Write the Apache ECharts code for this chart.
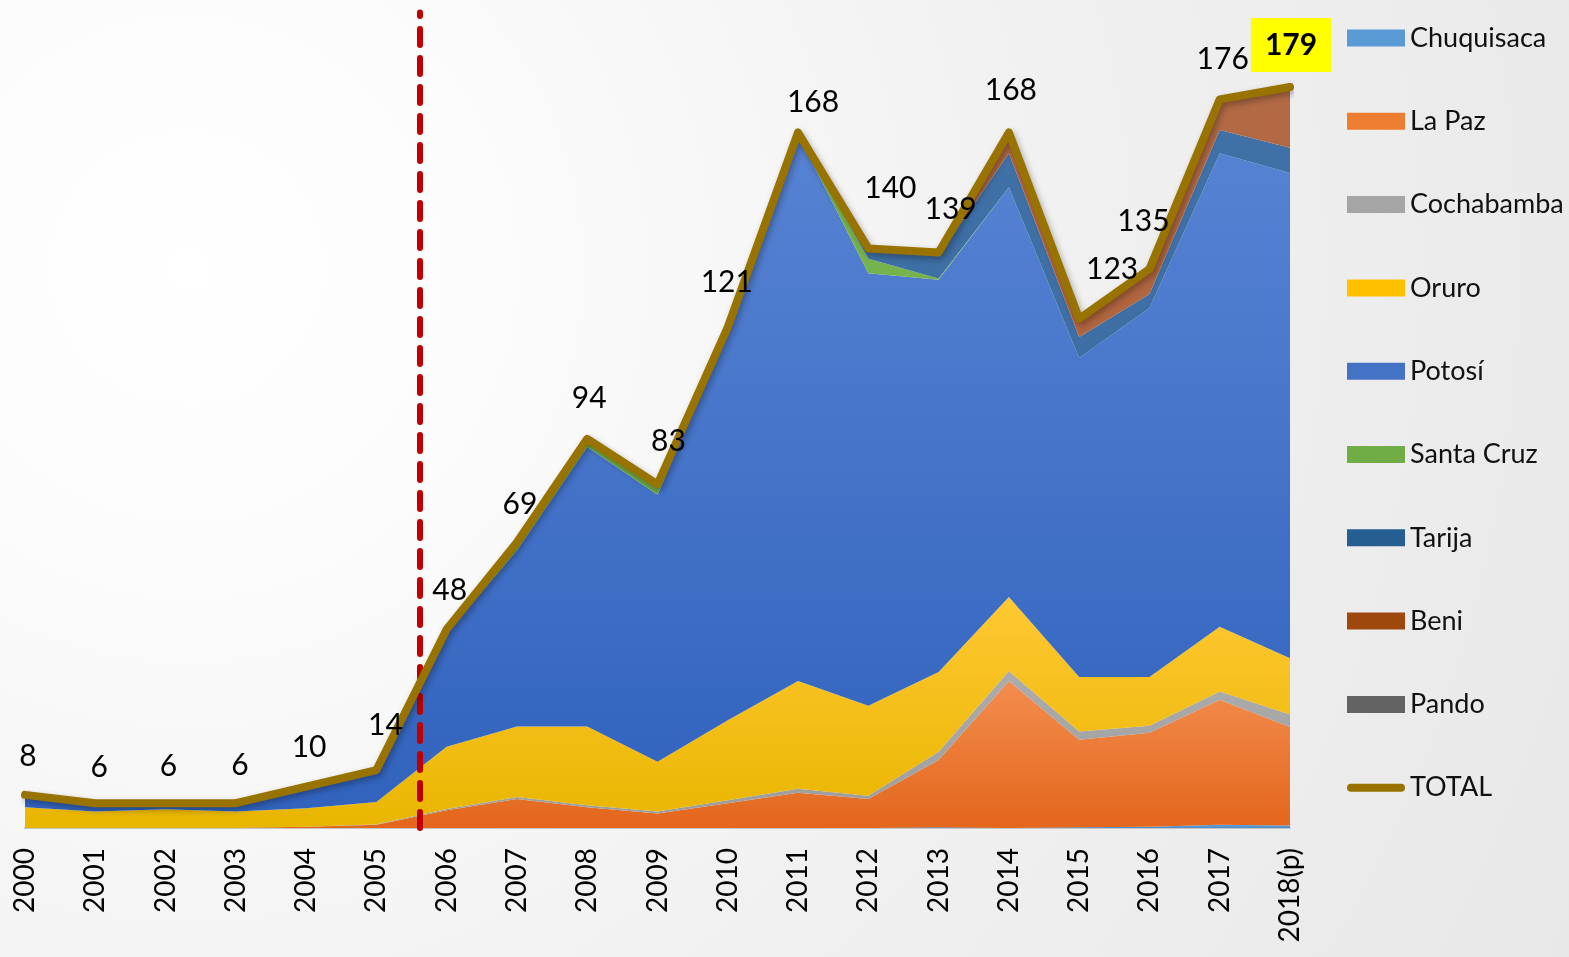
<!DOCTYPE html>
<html>
<head>
<meta charset="utf-8">
<script src="https://cdn.jsdelivr.net/npm/echarts@6/dist/echarts.min.js"></script>
<style>
  html, body { margin: 0; padding: 0; }
  body {
    width: 1569px; height: 957px; overflow: hidden;
    background: radial-gradient(circle at 12% 28%, #ffffff 0%, #fcfcfc 18%, #f1f1f1 55%, #e8e8e8 100%);
  }
  #chart { width: 1569px; height: 957px; }
</style>
</head>
<body>
<div id="chart"></div>
<script>
// datos por departamento
const years = ['2000', '2001', '2002', '2003', '2004', '2005', '2006', '2007', '2008', '2009',
  '2010', '2011', '2012', '2013', '2014', '2015', '2016', '2017', '2018(p)']
const chuquisaca = [0, 0, 0, 0, 0, 0, 0, 0, 0, 0, 0, 0, 0, 0.2, 0, 0.2, 0.3, 0.8, 0.6]
const laPaz = [0, 0, 0, 0, 0.3, 0.8, 4.3, 7, 5, 3.5, 6, 8.5, 7, 16.2, 35.5, 21.1, 22.7, 30.2, 23.8]
const cochabamba = [0, 0, 0, 0, 0, 0.1, 0.3, 0.5, 0.5, 0.5, 0.7, 1, 0.8, 2, 2.4, 2, 1.7, 2, 3]
const oruro = [5, 4, 4.5, 4, 4.5, 5.4, 15, 17, 19, 12, 19.3, 26, 21.7, 19.3, 17.9, 13.2, 11.8, 15.6, 13.6]
const potosi = [3, 2, 1.5, 2, 5, 7.5, 27.5, 42.5, 67.5, 64.5, 94, 132, 104.5, 94.7, 99, 77, 89.1, 114.4, 117.2]
const santaCruz = [0, 0, 0, 0, 0.2, 0.2, 0.9, 2, 2, 2.5, 1, 0.5, 3.5, 0.3, 0, 0, 0, 0, 0]
const tarija = [0, 0, 0, 0, 0, 0, 0, 0, 0, 0, 0, 0, 2, 5.5, 8.2, 5.1, 3.4, 5.6, 6.1]
const beni = [0, 0, 0, 0, 0, 0, 0, 0, 0, 0, 0, 0, 0.5, 0.8, 5, 4.4, 6, 7.4, 14.7]
const pando = [0, 0, 0, 0, 0, 0, 0, 0, 0, 0, 0, 0, 0, 0, 0, 0, 0, 0, 0]
const total = [8, 6, 6, 6, 10, 14, 48, 69, 94, 83, 121, 168, 140, 139, 168, 123, 135, 176, 179]

// desplazamiento de etiquetas del total
const labelShift = [[3, -2], [4, 1], [3, 0], [4, -1], [3, -2], [9, -8], [3, -2], [3, -1], [2, -4], [11, -6],
  [-1, -8], [15, 7], [22, -23], [12, -6], [2, -5], [33, -12], [-6, -11], [3, -3], [1, 7]]
const cutPosition = 5.62 // línea roja entre 2005 y 2006
const FONT = 'Lato'

const grad = (top, bottom) => new echarts.graphic.LinearGradient(0, 0, 0, 1, [
  { offset: 0, color: top },
  { offset: 1, color: bottom }
])

const areas = [
  { name: 'Chuquisaca', data: chuquisaca, color: '#5b9bd5', fill: grad('#66a3da', '#4b8bc9') },
  { name: 'La Paz', data: laPaz, color: '#ed7d31', fill: grad('#f38d4f', '#e3661b') },
  { name: 'Cochabamba', data: cochabamba, color: '#a5a5a5', fill: grad('#acacac', '#9c9c9c') },
  { name: 'Oruro', data: oruro, color: '#ffc000', fill: grad('#ffc833', '#e8b600') },
  { name: 'Potosí', data: potosi, color: '#4472c4', fill: grad('#5783d3', '#3163bd') },
  { name: 'Santa Cruz', data: santaCruz, color: '#70ad47', fill: grad('#7ab852', '#63a03b') },
  { name: 'Tarija', data: tarija, color: '#255e91', fill: grad('#3f70a6', '#3b6aa0') },
  { name: 'Beni', data: beni, color: '#9e480e', fill: grad('#b26a45', '#ad5a30') },
  { name: 'Pando', data: pando, color: '#636363', fill: grad('#707070', '#5a5a5a') }
]

const areaSeries = areas.map((a) => ({
  name: a.name,
  type: 'line',
  stack: 'total',
  symbol: 'none',
  lineStyle: { width: 0 },
  itemStyle: { color: a.color },
  areaStyle: { color: a.fill, opacity: 1 },
  data: a.data,
  z: 2
}))

// el último valor va resaltado en amarillo
const totalData = total.map((v, i) => {
  if (i !== total.length - 1) return v
  return {
    value: v,
    label: { fontWeight: 'bold', backgroundColor: '#ffff00', padding: [12, 14, 12, 14] }
  }
})

const chart = echarts.init(document.getElementById('chart'))
chart.setOption({
  backgroundColor: 'transparent',
  animation: false,
  textStyle: { fontFamily: FONT },
  grid: { left: 25, right: 279, top: 0, bottom: 129 },
  legend: {
    orient: 'vertical',
    left: 1342,
    top: 18,
    itemWidth: 58,
    itemHeight: 17,
    itemGap: 53.3,
    textStyle: { fontSize: 27, lineHeight: 30, color: '#111', fontFamily: FONT },
    data: areas.map((a) => ({ name: a.name, icon: 'rect' })).concat([
      { name: 'TOTAL', icon: 'path://M4,0H54A4,4 0 0 1 54,8H4A4,4 0 0 1 4,0Z' }
    ])
  },
  xAxis: [
    {
      type: 'category',
      data: years,
      boundaryGap: false,
      axisTick: { show: false },
      axisLine: { lineStyle: { color: '#c4c4c4', width: 2 } },
      axisLabel: { rotate: 90, interval: 0, margin: 20, fontSize: 28, color: '#000', fontFamily: FONT }
    },
    { type: 'value', min: 0, max: years.length - 1, show: false }
  ],
  yAxis: { type: 'value', min: 0, max: 200, show: false },
  series: areaSeries.concat([
    {
      name: 'TOTAL',
      type: 'line',
      symbol: 'circle',
      symbolSize: 4,
      showSymbol: true,
      data: totalData,
      itemStyle: { color: '#997300' },
      lineStyle: {
        color: '#997300', width: 8, cap: 'round', join: 'round',
        shadowColor: 'rgba(0,0,0,0.3)', shadowBlur: 6, shadowOffsetX: 2, shadowOffsetY: 3
      },
      label: {
        show: true,
        position: 'top',
        distance: 20,
        fontSize: 30,
        color: '#000',
        fontFamily: FONT
      },
      labelLayout: (p) => ({
        dx: labelShift[p.dataIndex][0],
        dy: labelShift[p.dataIndex][1],
        hideOverlap: false
      }),
      z: 5
    },
    {
      name: 'corte',
      type: 'line',
      xAxisIndex: 1,
      data: [],
      z: 8,
      markLine: {
        silent: true,
        symbol: 'none',
        label: { show: false },
        lineStyle: { color: '#c00000', width: 6, type: [16, 13], cap: 'round' },
        data: [[{ coord: [cutPosition, 0] }, { coord: [cutPosition, 197] }]]
      }
    }
  ])
})
</script>
</body>
</html>
